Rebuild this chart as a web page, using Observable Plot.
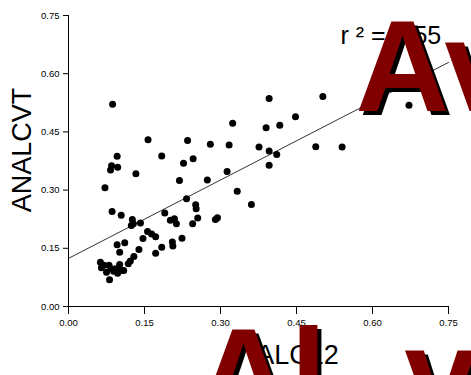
<!DOCTYPE html>
<html>
<head>
<meta charset="utf-8">
<script src="https://cdn.jsdelivr.net/npm/d3@7"></script>
<script src="https://cdn.jsdelivr.net/npm/@observablehq/plot@0.6"></script>
<style>
  html, body { margin: 0; padding: 0; background: white; }
  #chart { width: 471px; height: 375px; overflow: hidden; }
</style>
</head>
<body>
<div id="chart"></div>
<script>
// ALC12 (x) and ANALCVT (y)
const alc12 = [
  0.087, 0.157, 0.235, 0.324, 0.280, 0.317, 0.376, 0.096, 0.085, 0.083,
  0.097, 0.184, 0.227, 0.246, 0.133, 0.072, 0.219, 0.274, 0.313, 0.333,
  0.233, 0.361, 0.251, 0.252, 0.086, 0.104, 0.190, 0.201, 0.209, 0.213,
  0.245, 0.255, 0.290, 0.294, 0.126, 0.128, 0.124, 0.142, 0.156, 0.164,
  0.172, 0.147, 0.224, 0.205, 0.206, 0.184, 0.172, 0.096, 0.111, 0.101,
  0.139, 0.129, 0.122, 0.118, 0.063, 0.070, 0.065, 0.080, 0.084, 0.093,
  0.089, 0.101, 0.104, 0.109, 0.081, 0.075, 0.097, 0.396, 0.502, 0.672,
  0.448, 0.417, 0.390, 0.396, 0.411, 0.396, 0.488, 0.540
];
const analcvt = [
  0.521, 0.430, 0.428, 0.472, 0.418, 0.416, 0.411, 0.387, 0.363, 0.352,
  0.359, 0.388, 0.369, 0.381, 0.342, 0.306, 0.325, 0.326, 0.348, 0.297,
  0.278, 0.263, 0.262, 0.252, 0.245, 0.235, 0.241, 0.222, 0.226, 0.213,
  0.213, 0.228, 0.224, 0.229, 0.224, 0.213, 0.209, 0.215, 0.193, 0.187,
  0.180, 0.175, 0.176, 0.166, 0.156, 0.153, 0.137, 0.159, 0.164, 0.140,
  0.147, 0.129, 0.117, 0.110, 0.114, 0.106, 0.100, 0.106, 0.097, 0.097,
  0.091, 0.108, 0.093, 0.093, 0.069, 0.088, 0.086, 0.536, 0.541, 0.519,
  0.489, 0.467, 0.461, 0.401, 0.392, 0.364, 0.412, 0.411
];
// regression line end points
const fitX = [0, 0.75];
const fitY = [0.124, 0.629];
// ticks
const xTicks = [0, 0.15, 0.30, 0.45, 0.60, 0.75];
const yTicks = [0, 0.15, 0.30, 0.45, 0.60, 0.75];
// texts
const xTitle = "ALC12";
const yTitle = "ANALCVT";
const r2Label = "r ² = 0.55";
const overlayTop = "Av";
const overlayBottomA = "Al";
const overlayBottomB = "v";

const points = alc12.map((x, i) => ({x, y: analcvt[i]}));
const fit = fitX.map((x, i) => ({x, y: fitY[i]}));
const fmt = d => d.toFixed(2);
const big = {fontSize: 130, fontWeight: "bold", textAnchor: "start", lineAnchor: "bottom", frameAnchor: "top-left", text: d => d};

const chart = Plot.plot({
  width: 471,
  height: 375,
  marginLeft: 68,
  marginRight: 23,
  marginTop: 15,
  marginBottom: 69,
  style: {fontFamily: "'Liberation Sans', Arial, sans-serif", background: "white", color: "black"},
  x: {domain: [0, 0.75], label: null},
  y: {domain: [0, 0.75], label: null},
  marks: [
    Plot.axisX(xTicks, {tickSize: 8, tickPadding: 5, tickFormat: fmt, fontSize: 9.5, label: null}),
    Plot.axisY(yTicks, {tickSize: 5, tickPadding: 4, tickFormat: fmt, fontSize: 9.5, label: null}),
    Plot.ruleX([0], {stroke: "black"}),
    Plot.ruleY([0], {stroke: "black"}),
    Plot.line(fit, {x: "x", y: "y", stroke: "black", strokeWidth: 0.8}),
    Plot.dot(points, {x: "x", y: "y", r: 3.5, fill: "black", stroke: "none"}),
    Plot.text([r2Label], {text: d => d, frameAnchor: "top-left", dx: 272, dy: 28, textAnchor: "start", lineAnchor: "bottom", fontSize: 25, fill: "black"}),
    Plot.text([yTitle], {text: d => d, frameAnchor: "left", dx: -46, dy: -11, rotate: -90, textAnchor: "middle", lineAnchor: "middle", fontSize: 27, fill: "black"}),
    Plot.text([xTitle], {text: d => d, frameAnchor: "bottom", dx: 39, dy: 57, textAnchor: "middle", lineAnchor: "bottom", fontSize: 27, fill: "black"}),
    // overlay lettering with shadow
    Plot.text([overlayTop], {...big, dx: 291, dy: 99, fill: "black"}),
    Plot.text([overlayTop], {...big, dx: 287, dy: 95, fill: "#800000"}),
    Plot.text([overlayBottomA], {...big, dx: 132, dy: 407, fill: "black"}),
    Plot.text([overlayBottomA], {...big, dx: 128, dy: 403, fill: "#800000"}),
    Plot.text([overlayBottomB], {...big, dx: 340, dy: 407, fill: "black"}),
    Plot.text([overlayBottomB], {...big, dx: 336, dy: 403, fill: "#800000"})
  ]
});
document.getElementById("chart").appendChild(chart);
</script>
</body>
</html>
